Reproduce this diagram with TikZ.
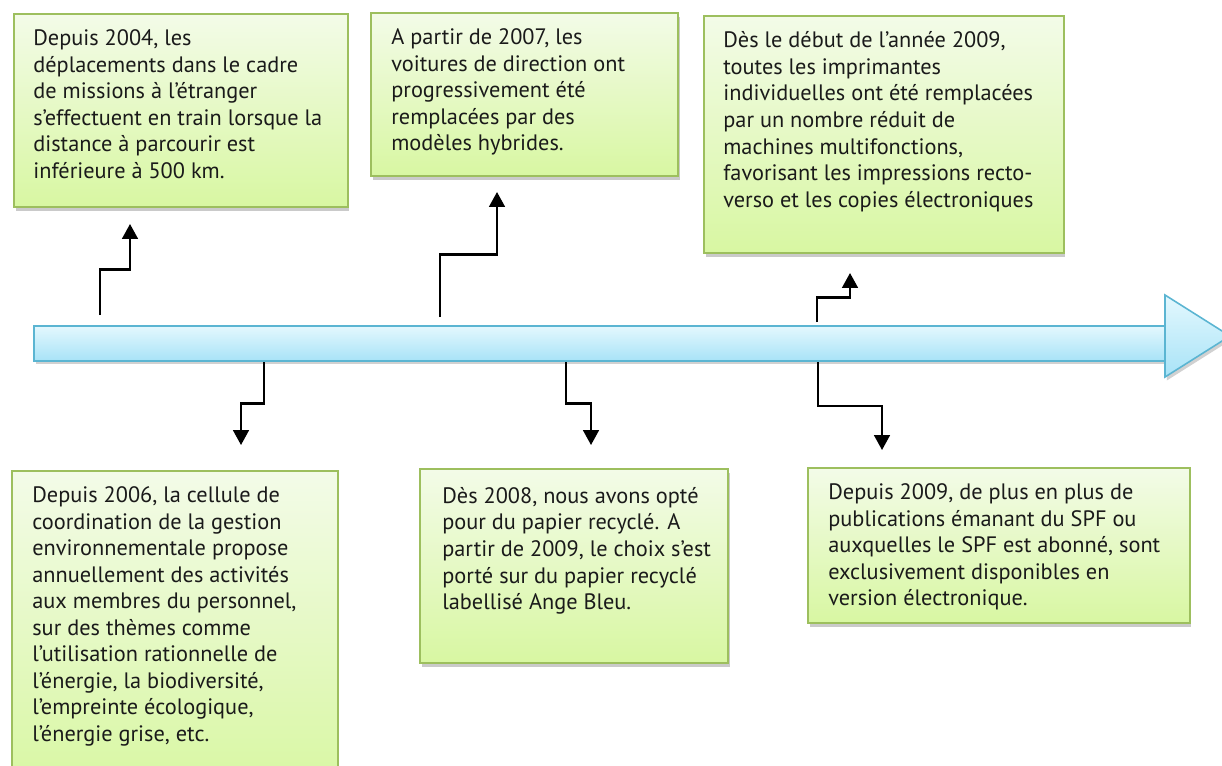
\documentclass[tikz,border=0pt]{standalone}
\usepackage{fontspec}
\setmainfont{PT Sans}
\usepackage{tikz}
\usetikzlibrary{arrows.meta,positioning,shadows,calc}
\definecolor{evttop}{HTML}{F3FBE8}
\definecolor{evtbot}{HTML}{D8F7A2}
\definecolor{evtedge}{HTML}{9DBF5E}
\definecolor{bartop}{HTML}{E4F8FE}
\definecolor{barbot}{HTML}{A8E3F7}
\definecolor{baredge}{HTML}{5BB5D2}
\definecolor{bodytext}{HTML}{1A1A1A}

\begin{document}
\begin{tikzpicture}[x=0.02cm, y=-0.02cm,
    evt/.style={draw=evtedge, line width=0.9pt, top color=evttop, bottom color=evtbot,
        drop shadow={shadow xshift=1pt, shadow yshift=-2.5pt, opacity=0.35, fill=black!60},
        anchor=north west, inner sep=0pt},
    evttext/.style={font=\fontsize{12.7}{15.1}\selectfont, align=left, inner sep=0pt, text=bodytext},
    timebar/.style={draw=baredge, line width=0.9pt, top color=bartop, bottom color=barbot,
        drop shadow={shadow xshift=1pt, shadow yshift=-2pt, opacity=0.3, fill=black!60},
        anchor=north west, inner sep=0pt},
    link/.style={line width=1.2pt, -{Triangle[length=8.5pt,width=9pt]}}]
    \useasboundingbox (0,0) rectangle (1222,765);

    % Timeline
    \node[timebar, minimum width=22.64cm, minimum height=0.7cm] (bar) at (33,325) {};
    \filldraw[draw=baredge, line width=0.9pt, top color=bartop, bottom color=barbot,
        drop shadow={shadow xshift=1pt, shadow yshift=-2pt, opacity=0.3, fill=black!60}]
        (1165,295) -- (1165,377) -- (1230,336) -- cycle;

    % Events above the line
    \node[evt, minimum width=6.68cm, minimum height=3.86cm] (e2004) at (13,13) {};
    \node[evttext, below right=0.33cm and 0.4cm of e2004.north west] (t2004) {Depuis 2004, les\\
        déplacements dans le cadre\\
        de missions à l’étranger\\
        s’effectuent en train lorsque la\\
        distance à parcourir est\\
        inférieure à 500 km.};

    \node[evt, minimum width=6.14cm, minimum height=3.26cm] (e2007) at (370,12) {};
    \node[evttext, below right=0.33cm and 0.42cm of e2007.north west] (t2007) {A partir de 2007, les\\
        voitures de direction ont\\
        progressivement été\\
        remplacées par des\\
        modèles hybrides.};

    \node[evt, minimum width=7.2cm, minimum height=4.74cm] (e2009a) at (703,15) {};
    \node[evttext, below right=0.33cm and 0.4cm of e2009a.north west] (t2009a) {Dès le début de l’année 2009,\\
        toutes les imprimantes\\
        individuelles ont été remplacées\\
        par un nombre réduit de\\
        machines multifonctions,\\
        favorisant les impressions recto-\\
        verso et les copies électroniques};

    % Events below the line
    \node[evt, minimum width=6.52cm, minimum height=6.4cm] (e2006) at (11,470) {};
    \node[evttext, below right=0.33cm and 0.42cm of e2006.north west] (t2006) {Depuis 2006, la cellule de\\
        coordination de la gestion\\
        environnementale propose\\
        annuellement des activités\\
        aux membres du personnel,\\
        sur des thèmes comme\\
        l’utilisation rationnelle de\\
        l’énergie, la biodiversité,\\
        l’empreinte écologique,\\
        l’énergie grise, etc.};

    \node[evt, minimum width=6.16cm, minimum height=3.88cm] (e2008) at (419,468) {};
    \node[evttext, below right=0.38cm and 0.46cm of e2008.north west] (t2008) {Dès 2008, nous avons opté\\
        pour du papier recyclé. A\\
        partir de 2009, le choix s’est\\
        porté sur du papier recyclé\\
        labellisé Ange Bleu.};

    \node[evt, minimum width=7.64cm, minimum height=3.1cm] (e2009b) at (807,467) {};
    \node[evttext, below right=0.33cm and 0.42cm of e2009b.north west] (t2009b) {Depuis 2009, de plus en plus de\\
        publications émanant du SPF ou\\
        auxquelles le SPF est abonné, sont\\
        exclusivement disponibles en\\
        version électronique.};

    % Connectors
    \coordinate (s1) at (100,315);  \coordinate (a1) at (130,224);
    \coordinate (s2) at (440,317);  \coordinate (a2) at (497,192);
    \coordinate (s3) at (817,322);  \coordinate (a3) at (850,273);
    \coordinate (s4) at (264,362);  \coordinate (a4) at (241,445);
    \coordinate (s5) at (566,362);  \coordinate (a5) at (591,445);
    \coordinate (s6) at (818,362);  \coordinate (a6) at (882,450);
    \foreach \i in {1,...,6} {
        \draw[link] (s\i) |- ($(s\i)!0.5!(a\i)$) -| (a\i);
    }
\end{tikzpicture}
\end{document}
